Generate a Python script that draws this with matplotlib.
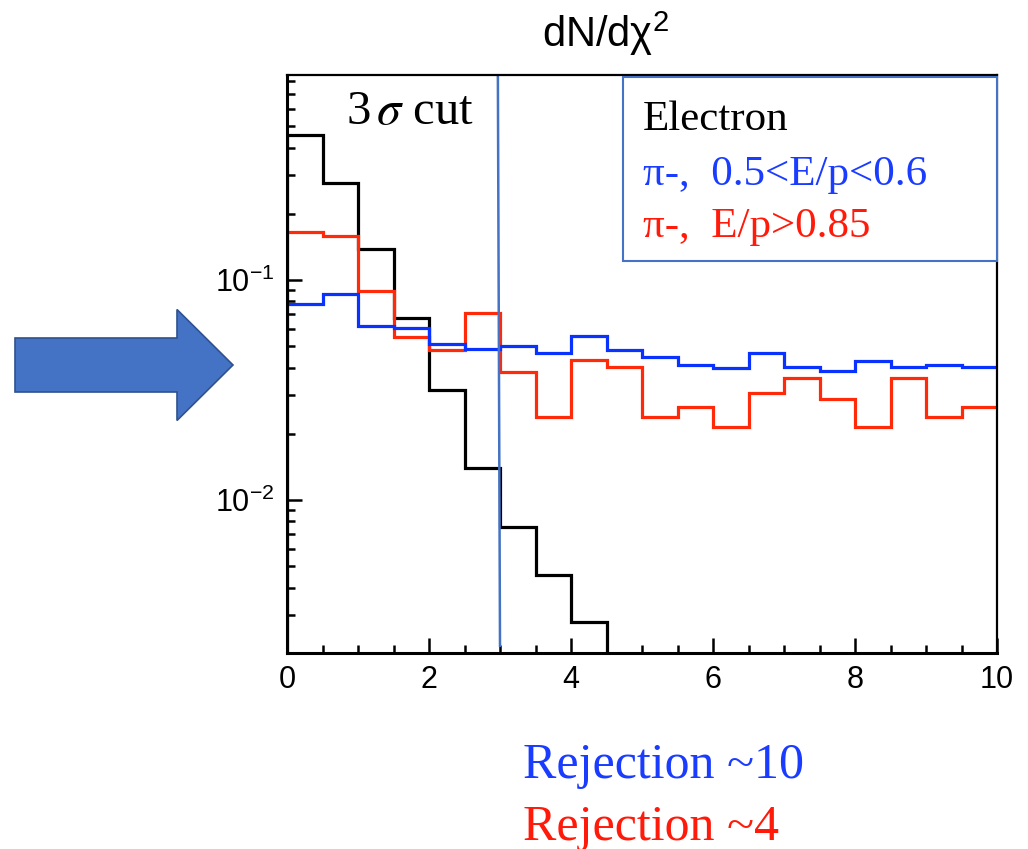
import matplotlib
matplotlib.use("Agg")
import matplotlib.pyplot as plt
import numpy as np
from matplotlib.patches import FancyArrow, Rectangle
from matplotlib.ticker import MultipleLocator, FixedLocator, FixedFormatter, NullFormatter

plt.rcParams['font.family'] = ['Liberation Sans', 'DejaVu Sans']
plt.rcParams['mathtext.fontset'] = 'stix'

# chi2 histograms, 0.5 wide bins, normalised
edges = np.arange(0, 10.5, 0.5)
electron = [0.456, 0.276, 0.138, 0.0672, 0.0316, 0.0140, 0.00753, 0.00456, 0.00279]
pion_low = [0.0778, 0.0863, 0.0618, 0.0605, 0.0512, 0.0485, 0.0501, 0.0466, 0.0556, 0.0481,
            0.0447, 0.0411, 0.0398, 0.0466, 0.0403, 0.0385, 0.0428, 0.0403, 0.0411, 0.0403]
pion_high = [0.165, 0.158, 0.0891, 0.0551, 0.0481, 0.0708, 0.0382, 0.0238, 0.0433, 0.0403,
             0.0238, 0.0265, 0.0215, 0.0306, 0.0359, 0.0288, 0.0215, 0.0359, 0.0238, 0.0265]
cut = 3.0
xticks = [0, 2, 4, 6, 8, 10]
yticks = [1e-2, 1e-1]
ytick_labels = [r'$\mathregular{10^{-2}}$', r'$\mathregular{10^{-1}}$']

W, H = 1028, 849
fig = plt.figure(figsize=(W / 100, H / 100), dpi=100)
ax = fig.add_axes([287 / W, 196 / H, 710 / W, 578 / H])

lw = 2.3
ax.stairs(electron, edges[:len(electron) + 1], baseline=1e-5, color='black', lw=lw)
ax.stairs(pion_high, edges, baseline=None, color='#ff2a0a', lw=lw)
ax.stairs(pion_low, edges, baseline=None, color='#0a32ff', lw=lw)
ax.plot([cut - 0.03, cut], [0.84, 0.00218], color='#4472c4', lw=1.8)

ax.set_yscale('log')
ax.set_xlim(0, 10)
ax.set_ylim(0.00202, 0.855)

ax.xaxis.set_major_locator(FixedLocator(xticks))
ax.xaxis.set_minor_locator(MultipleLocator(0.5))
ax.yaxis.set_major_locator(FixedLocator(yticks))
ax.yaxis.set_major_formatter(FixedFormatter(ytick_labels))
ax.yaxis.set_minor_locator(FixedLocator(
    [m * 10.0 ** e for e in (-3, -2, -1) for m in range(2, 10)]))
ax.yaxis.set_minor_formatter(NullFormatter())
ax.tick_params(which='both', direction='in', width=1.8, labelsize=22,
               top=False, right=False)
ax.tick_params(which='major', length=11)
ax.tick_params(which='minor', length=5.5)
ax.tick_params(axis='x', pad=9)
ax.tick_params(axis='y', pad=9)
for s in ax.spines.values():
    s.set_linewidth(1.6)
ax.spines['left'].set_linewidth(2.2)
ax.spines['bottom'].set_linewidth(2.2)

# overlay in pixel coordinates for the annotations
ov = fig.add_axes([0, 0, 1, 1], zorder=5)
ov.set_xlim(0, W)
ov.set_ylim(H, 0)
ov.axis('off')
ov.patch.set_alpha(0)

ov.text(542, 47, r'dN/dχ$^{\mathregular{2}}$', fontsize=30,
        ha='left', va='baseline')

ov.add_patch(Rectangle((623, 77), 374, 184, facecolor='white',
                       edgecolor='#4472c4', lw=1.5))
serif = ['Liberation Serif', 'DejaVu Serif']
ov.text(643, 130, 'Electron', fontsize=31, family=serif, color='black', va='baseline')
ov.text(643, 185, 'π-,  0.5<E/p<0.6', fontsize=31, family=serif, color='#1a3cff',
        va='baseline')
ov.text(643, 237, 'π-,  E/p>0.85', fontsize=31, family=serif, color='#ff1a0a',
        va='baseline')

ov.text(346, 124, r'3$\,\sigma$ cut', fontsize=35, family=serif, va='baseline')

ov.text(523, 778, 'Rejection ~10', fontsize=36, family=serif, color='#1a3cff',
        va='baseline')
ov.text(523, 840, 'Rejection ~4', fontsize=36, family=serif, color='#ff1a0a',
        va='baseline')

ov.add_patch(FancyArrow(15, 365, 218, 0, width=54, head_width=111, head_length=56,
                        length_includes_head=True, facecolor='#4472c4',
                        edgecolor='#2f528f', lw=1.2))

fig.savefig('out.png', dpi=100)
